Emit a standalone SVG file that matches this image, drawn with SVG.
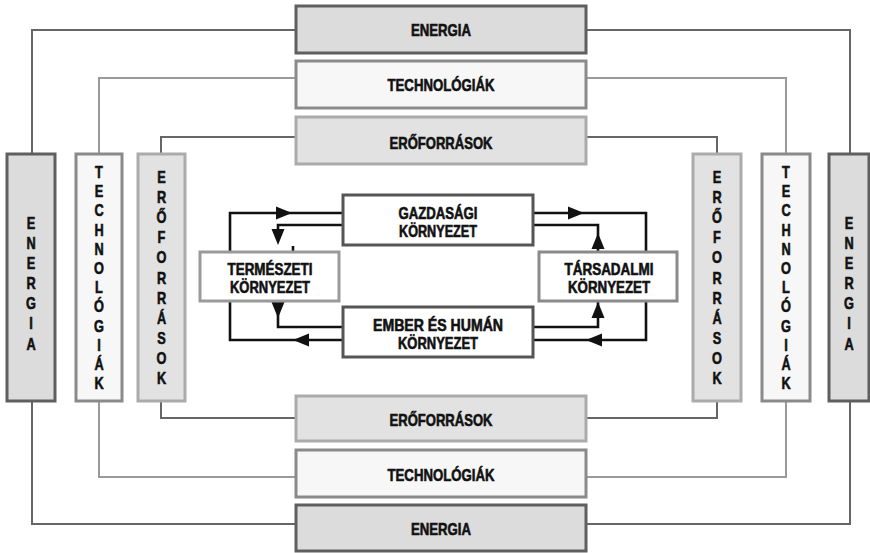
<svg xmlns="http://www.w3.org/2000/svg" width="870" height="553" viewBox="0 0 870 553">
<style>
text{font-family:"Liberation Sans",Arial,"DejaVu Sans",sans-serif;font-weight:bold;font-size:16.5px;fill:#111;stroke:#111;stroke-width:0.6;text-anchor:middle}
.v text{font-size:17px}
.s{font-size:16px}
.en{fill:#dcdcdc;stroke:#5f5f5f;stroke-width:3}
.te{fill:#f7f7f7;stroke:#8a8a8a;stroke-width:3}
.er{fill:#e2e2e2;stroke:#ababab;stroke-width:3}
.inD{fill:#fff;stroke:#555;stroke-width:3}
.inL{fill:#fff;stroke:#9a9a9a;stroke-width:3}
.inM{fill:#fff;stroke:#8a8a8a;stroke-width:3}
.cEn{fill:none;stroke:#666;stroke-width:2}
.cTe{fill:none;stroke:#9a9a9a;stroke-width:2}
.cEr{fill:none;stroke:#666;stroke-width:2}
.fl{fill:none;stroke:#111;stroke-width:2.6}
.ah{fill:#111}
</style>
<defs>
<path id="ah" d="M0,0 L-16,-6.5 L-16,6.5 Z"/>
</defs>

<g id="connectors">
<polyline class="cEn" points="296,30 32,30 32,154"/>
<polyline class="cEn" points="586,30 850,30 850,154"/>
<polyline class="cEn" points="32,401 32,524 296,524"/>
<polyline class="cEn" points="850,401 850,524 586,524"/>
<polyline class="cTe" points="296,78 99,78 99,154"/>
<polyline class="cTe" points="586,78 786,78 786,154"/>
<polyline class="cTe" points="99,401 99,477 296,477"/>
<polyline class="cTe" points="786,401 786,477 586,477"/>
<polyline class="cEr" points="296,137 161,137 161,154"/>
<polyline class="cEr" points="586,137 717,137 717,154"/>
<polyline class="cEr" points="161,401 161,418 296,418"/>
<polyline class="cEr" points="717,401 717,418 586,418"/>

<polyline class="fl" points="343,213 230,213 230,340 343,340"/>
<polyline class="fl" points="343,225 278,225 278,240"/>
<line class="fl" x1="293" y1="246" x2="293" y2="252"/>
<polyline class="fl" points="278,301 278,327 343,327"/>
<polyline class="fl" points="533,213 646,213 646,340 533,340"/>
<polyline class="fl" points="533,225 598,225 598,252"/>
<polyline class="fl" points="533,327 598,327 598,301"/>
<use href="#ah" class="ah" transform="translate(292,213)"/>
<use href="#ah" class="ah" transform="translate(293,340) rotate(180)"/>
<use href="#ah" class="ah" transform="translate(278,245) rotate(90)"/>
<use href="#ah" class="ah" transform="translate(278,318) rotate(90)"/>
<use href="#ah" class="ah" transform="translate(584,213)"/>
<use href="#ah" class="ah" transform="translate(586,340) rotate(180)"/>
<use href="#ah" class="ah" transform="translate(598,233) rotate(-90)"/>
<use href="#ah" class="ah" transform="translate(598,302) rotate(-90)"/>
</g>

<g id="energia-top"><rect class="en" x="296" y="6" width="290" height="47"/><text x="441" y="36" textLength="60" lengthAdjust="spacingAndGlyphs">ENERGIA</text></g>
<g id="technologiak-top"><rect class="te" x="296" y="61" width="290" height="47"/><text x="441" y="91" textLength="107" lengthAdjust="spacingAndGlyphs">TECHNOLÓGIÁK</text></g>
<g id="eroforrasok-top"><rect class="er" x="296" y="117" width="290" height="47"/><text x="441" y="149" textLength="103" lengthAdjust="spacingAndGlyphs">ERŐFORRÁSOK</text></g>

<g id="eroforrasok-bottom"><rect class="er" x="296" y="396" width="290" height="45"/><text x="441" y="426" textLength="103" lengthAdjust="spacingAndGlyphs">ERŐFORRÁSOK</text></g>
<g id="technologiak-bottom"><rect class="te" x="296" y="450" width="290" height="47"/><text x="441" y="481" textLength="107" lengthAdjust="spacingAndGlyphs">TECHNOLÓGIÁK</text></g>
<g id="energia-bottom"><rect class="en" x="296" y="505" width="290" height="46"/><text x="441" y="535" textLength="60" lengthAdjust="spacingAndGlyphs">ENERGIA</text></g>

<g id="energia-left" class="v"><rect class="en" x="7" y="154" width="48" height="247"/>
<g transform="translate(31,0) scale(0.75,1)"><text><tspan x="0" y="229">E</tspan><tspan x="0" y="249">N</tspan><tspan x="0" y="269">E</tspan><tspan x="0" y="289">R</tspan><tspan x="0" y="309">G</tspan><tspan x="0" y="329">I</tspan><tspan x="0" y="350">A</tspan></text></g></g>
<g id="technologiak-left" class="v"><rect class="te" x="76" y="154" width="46" height="247"/>
<g transform="translate(99,0) scale(0.75,1)"><text><tspan x="0" y="178">T</tspan><tspan x="0" y="197">E</tspan><tspan x="0" y="216">C</tspan><tspan x="0" y="236">H</tspan><tspan x="0" y="255">N</tspan><tspan x="0" y="274">O</tspan><tspan x="0" y="293">L</tspan><tspan x="0" y="312">Ó</tspan><tspan x="0" y="332">G</tspan><tspan x="0" y="351">I</tspan><tspan x="0" y="370">Á</tspan><tspan x="0" y="389">K</tspan></text></g></g>
<g id="eroforrasok-left" class="v"><rect class="er" x="138" y="154" width="47" height="247"/>
<g transform="translate(161.5,0) scale(0.75,1)"><text><tspan x="0" y="183">E</tspan><tspan x="0" y="203">R</tspan><tspan x="0" y="223">Ő</tspan><tspan x="0" y="243">F</tspan><tspan x="0" y="263">O</tspan><tspan x="0" y="284">R</tspan><tspan x="0" y="304">R</tspan><tspan x="0" y="324">Á</tspan><tspan x="0" y="344">S</tspan><tspan x="0" y="364">O</tspan><tspan x="0" y="384">K</tspan></text></g></g>

<g id="eroforrasok-right" class="v"><rect class="er" x="693" y="154" width="48" height="247"/>
<g transform="translate(717,0) scale(0.75,1)"><text><tspan x="0" y="183">E</tspan><tspan x="0" y="203">R</tspan><tspan x="0" y="223">Ő</tspan><tspan x="0" y="243">F</tspan><tspan x="0" y="263">O</tspan><tspan x="0" y="284">R</tspan><tspan x="0" y="304">R</tspan><tspan x="0" y="324">Á</tspan><tspan x="0" y="344">S</tspan><tspan x="0" y="364">O</tspan><tspan x="0" y="384">K</tspan></text></g></g>
<g id="technologiak-right" class="v"><rect class="te" x="762" y="154" width="48" height="247"/>
<g transform="translate(786,0) scale(0.75,1)"><text><tspan x="0" y="178">T</tspan><tspan x="0" y="197">E</tspan><tspan x="0" y="216">C</tspan><tspan x="0" y="236">H</tspan><tspan x="0" y="255">N</tspan><tspan x="0" y="274">O</tspan><tspan x="0" y="293">L</tspan><tspan x="0" y="312">Ó</tspan><tspan x="0" y="332">G</tspan><tspan x="0" y="351">I</tspan><tspan x="0" y="370">Á</tspan><tspan x="0" y="389">K</tspan></text></g></g>
<g id="energia-right" class="v"><rect class="en" x="829" y="154" width="40" height="247"/>
<g transform="translate(849,0) scale(0.75,1)"><text><tspan x="0" y="229">E</tspan><tspan x="0" y="249">N</tspan><tspan x="0" y="269">E</tspan><tspan x="0" y="289">R</tspan><tspan x="0" y="309">G</tspan><tspan x="0" y="329">I</tspan><tspan x="0" y="350">A</tspan></text></g></g>

<g id="gazdasagi"><rect class="inD" x="343" y="195" width="190" height="50"/><text class="s" x="438" y="219" textLength="79" lengthAdjust="spacingAndGlyphs">GAZDASÁGI</text><text class="s" x="438" y="237" textLength="78" lengthAdjust="spacingAndGlyphs">KÖRNYEZET</text></g>
<g id="termeszeti"><rect class="inL" x="200" y="252" width="139" height="49"/><text class="s" x="270" y="275" textLength="85" lengthAdjust="spacingAndGlyphs">TERMÉSZETI</text><text class="s" x="270" y="293" textLength="80" lengthAdjust="spacingAndGlyphs">KÖRNYEZET</text></g>
<g id="tarsadalmi"><rect class="inM" x="539" y="252" width="138" height="49"/><text class="s" x="609" y="275" textLength="89" lengthAdjust="spacingAndGlyphs">TÁRSADALMI</text><text class="s" x="609" y="293" textLength="82" lengthAdjust="spacingAndGlyphs">KÖRNYEZET</text></g>
<g id="ember"><rect class="inD" x="343" y="307" width="190" height="50"/><text class="s" x="438" y="331" textLength="130" lengthAdjust="spacingAndGlyphs">EMBER ÉS HUMÁN</text><text class="s" x="438" y="349" textLength="80" lengthAdjust="spacingAndGlyphs">KÖRNYEZET</text></g>
</svg>
